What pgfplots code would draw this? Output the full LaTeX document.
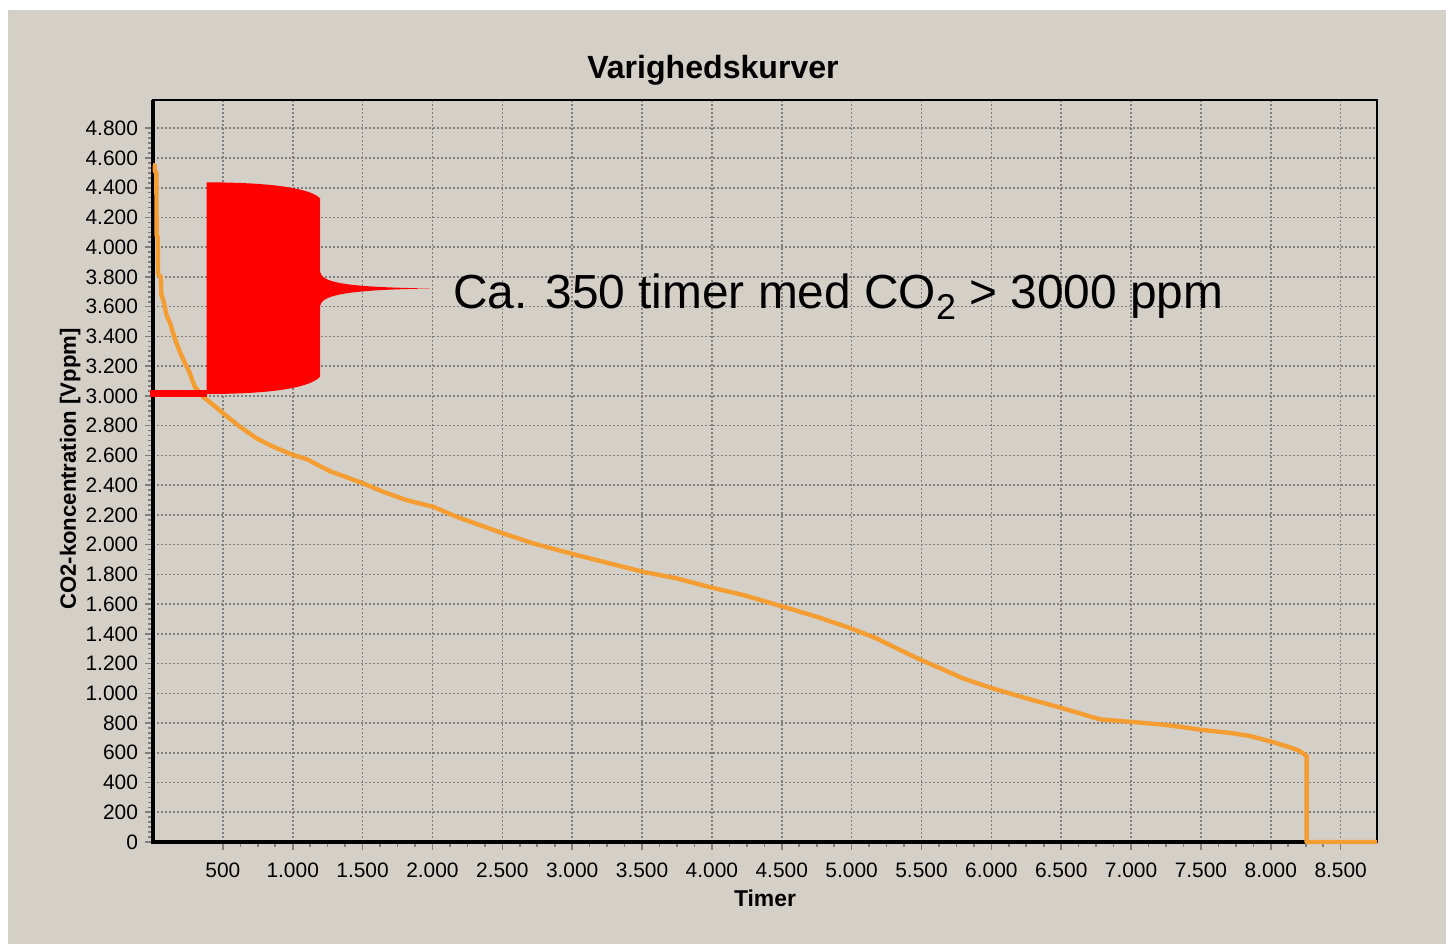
\documentclass[border=0pt]{standalone}
\usepackage{fontspec}
\setmainfont{Liberation Sans}
\usepackage{pgfplots}
\pgfplotsset{compat=1.18}
\definecolor{bg}{RGB}{212,208,200}
\definecolor{curve}{RGB}{243,157,50}
\definecolor{gridc}{RGB}{128,128,128}
\begin{document}
\begin{tikzpicture}
\fill[white] (0,0) rectangle (723bp,472bp);
\useasboundingbox (0,0) rectangle (723bp,472bp);
\fill[bg] (4bp,0) rectangle (723bp,467bp);
\begin{axis}[
  at={(76.5bp,51bp)}, anchor=south west,
  scale only axis, width=612bp, height=371bp,
  xmin=0, xmax=8760, ymin=0, ymax=4990,
  clip=false,
  axis line style={black, line width=1bp},
  xtick={500,1000,...,8500},
  ytick={0,200,...,4800},
  minor x tick num=3, minor y tick num=5,
  tick align=outside, xtick pos=bottom, ytick pos=left,
  major tick length=4bp, minor tick length=2.5bp,
  every tick/.style={gridc, line width=0.8bp},
  grid=major,
  major grid style={gridc, line width=0.8bp, dash pattern=on 1bp off 1bp},
  scaled ticks=false,
  tick label style={font=\fontsize{10.5}{12}\selectfont, black},
  xticklabel style={yshift=-3bp},
  title={Varighedskurver},
  title style={font=\fontsize{16.1}{18}\selectfont\bfseries, at={(axis description cs:0.4575,1.0134)}, anchor=base},
  xlabel={Timer},
  xlabel style={font=\fontsize{11.5}{14}\selectfont\bfseries, at={(axis description cs:0.5,-0.0755)}, anchor=center},
  ylabel={CO2-koncentration [Vppm]},
  ylabel style={font=\fontsize{11.1}{14}\selectfont\bfseries, at={(axis description cs:-0.0676,0.5027)}, anchor=center, rotate=0},
  /pgf/number format/1000 sep={.},
  /pgf/number format/assume math mode=true,
]
\draw[black, line width=2bp] (axis description cs:0,1) -- (axis description cs:0,0) -- (axis description cs:1,0);
\addplot[curve, line width=2.2bp, line join=round] coordinates {
(0,4550) (12,4550) (14,4510) (24,4500) (26,4080) (34,4070) (36,3820) (55,3800) (60,3680) (75,3640)
(98,3540) (122,3490) (145,3420) (170,3350) (193,3295) (229,3220) (250,3180) (265,3150) (289,3085)
(300,3060) (336,3022) (360,2992) (430,2940) (503,2882) (623,2792) (742,2714) (861,2658) (1004,2602)
(1100,2575) (1180,2535) (1270,2492) (1380,2455) (1505,2411) (1648,2355) (1815,2299) (2006,2254) (2173,2187)
(2340,2131) (2507,2075) (2721,2008) (3007,1936) (3270,1873) (3508,1817) (3747,1773) (3993,1712)
(4224,1661) (4494,1587) (4749,1515) (4994,1437) (5178,1369) (5350,1290) (5496,1224) (5608,1179)
(5798,1100) (5996,1037) (6252,966) (6497,903) (6776,825) (6998,808) (7253,787) (7499,755)
(7730,731) (7850,713) (8000,676) (8136,637) (8200,615) (8256,580) (8256,0) (8760,0)
};
\fill[red] (axis cs:384.3,4436.6) .. controls (axis cs:837.4,4435.2) and (axis cs:1123.6,4398.2) .. (axis cs:1195.2,4328.9)
  -- (axis cs:1195.2,3835.3) .. controls (axis cs:1209.5,3766.1) and (axis cs:1338.3,3732.4) .. (axis cs:1982.5,3722.3)
  .. controls (axis cs:1338.3,3712.2) and (axis cs:1209.5,3671.9) .. (axis cs:1195.2,3604.6)
  -- (axis cs:1195.2,3129.2) .. controls (axis cs:1123.6,3053.2) and (axis cs:837.4,3012.8) .. (axis cs:384.3,3012.8) -- cycle;
\fill[red] (axis cs:-21.5,2990.6) rectangle (axis cs:384.3,3039.8);
\node[anchor=base west, inner sep=0pt, font=\fontsize{24}{28}\selectfont] at (axis cs:2147,3589)
  {Ca. 350 timer med CO\raisebox{-5.8bp}{\fontsize{18}{18}\selectfont 2} > 3000 ppm};
\end{axis}
\end{tikzpicture}
\end{document}
